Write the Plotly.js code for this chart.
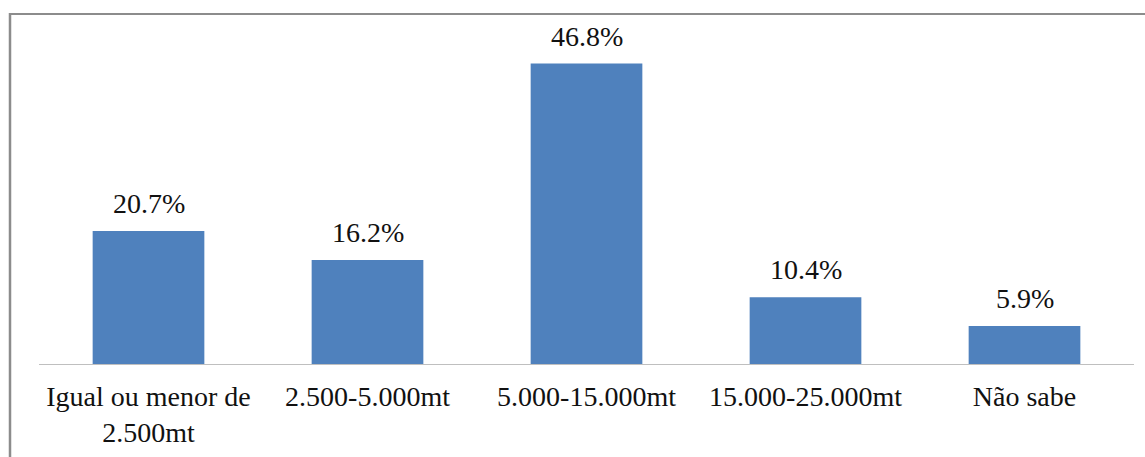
<!DOCTYPE html>
<html>
<head>
<meta charset="utf-8">
<script src="https://cdn.plot.ly/plotly-3.0.1.min.js"></script>
<style>
  html, body { margin: 0; padding: 0; background: #ffffff; }
  #chart { width: 1145px; height: 457px; }
  /* every label of the chart is set in the serif face */
  #chart svg text { font-family: 'Liberation Serif', 'Times New Roman', serif !important; }
</style>
</head>
<body>
<div id="chart"></div>
<script>
// Income brackets and share of respondents (%)
const categories = [
  'Igual ou menor de<br>2.500mt',
  '2.500-5.000mt',
  '5.000-15.000mt',
  '15.000-25.000mt',
  'Não sabe'
];
const shares = [20.7, 16.2, 46.8, 10.4, 5.9];
const valueLabels = shares.map(v => v.toFixed(1) + '%');

const W = 1145, H = 457;
const margin = { l: 39, r: 11, t: 43, b: 93 };
const plotW = W - margin.l - margin.r;
const plotH = H - margin.t - margin.b;

// pixel position -> paper fraction, for the outer frame lines
const px = x => (x - margin.l) / plotW;
const py = y => (H - margin.b - y) / plotH;

// a fresh font object for every place that needs one
const serif = () => ({ family: 'Liberation Serif', size: 28, color: '#111111' });

const trace = {
  type: 'bar',
  x: categories,
  y: shares,
  marker: { color: '#4F81BD', line: { width: 0 } },
  hoverinfo: 'skip'
};

const annotations = categories.map((c, i) => ({
  x: c,
  y: shares[i],
  xref: 'x',
  yref: 'y',
  text: valueLabels[i],
  showarrow: false,
  yanchor: 'bottom',
  yshift: 10,
  font: serif()
}));

const frameColor = '#8c8c8c';
const shapes = [
  { type: 'line', xref: 'paper', yref: 'paper', x0: px(9), x1: px(1145), y0: py(14), y1: py(14),
    line: { color: frameColor, width: 2 } },
  { type: 'line', xref: 'paper', yref: 'paper', x0: px(10), x1: px(10), y0: py(13), y1: py(457),
    line: { color: frameColor, width: 2.5 } }
];

const layout = {
  width: W,
  height: H,
  margin: margin,
  paper_bgcolor: '#ffffff',
  plot_bgcolor: '#ffffff',
  showlegend: false,
  bargap: 0.49,
  xaxis: {
    type: 'category',
    showline: true,
    linecolor: '#bfbfbf',
    linewidth: 1,
    ticks: '',
    ticklabelstandoff: 7,
    showgrid: false,
    zeroline: false,
    tickfont: serif(),
    fixedrange: true
  },
  yaxis: {
    range: [0, 50],
    visible: false,
    showgrid: false,
    zeroline: false,
    fixedrange: true
  },
  annotations: annotations,
  shapes: shapes
};

Plotly.newPlot('chart', [trace], layout, { displayModeBar: false });
</script>
</body>
</html>
